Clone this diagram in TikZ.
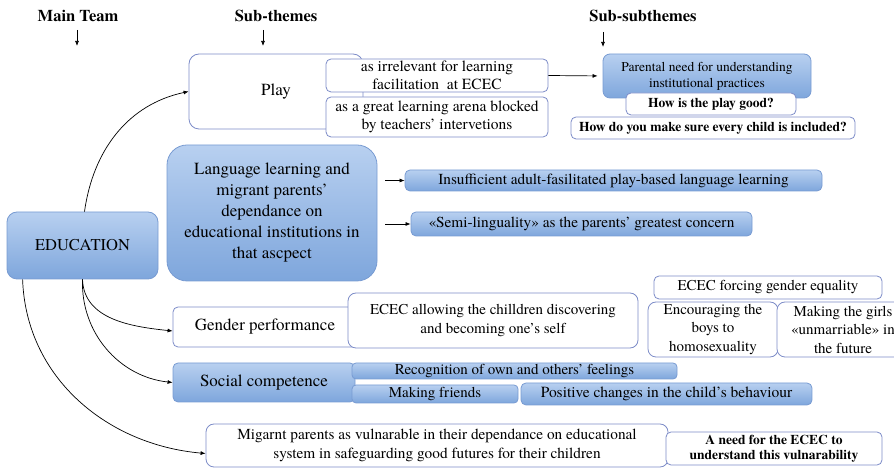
\documentclass[tikz,border=0pt]{standalone}
\usepackage{fontspec}
\setmainfont{texgyretermes}[Extension=.otf, UprightFont=*-regular, BoldFont=*-bold, ItalicFont=*-italic, BoldItalicFont=*-bolditalic]
\usepackage{tikz}
\usetikzlibrary{arrows.meta}
\definecolor{boxline}{RGB}{125,140,200}
\definecolor{blueline}{RGB}{120,155,210}
\definecolor{bluetop}{RGB}{184,208,240}
\definecolor{bluebot}{RGB}{126,166,220}
\newcommand{\themefont}{\fontsize{15}{18.5}\selectfont}
\newcommand{\bigthemefont}{\fontsize{17}{21}\selectfont}
\newcommand{\smallthemefont}{\fontsize{15.3}{17}\selectfont}
\newcommand{\askfont}{\fontsize{13.5}{15}\selectfont\bfseries}
\tikzstyle{theme}=[draw=boxline, line width=0.8pt, rounded corners=5pt, inner sep=0, align=center, font=\themefont]
\tikzstyle{wtheme}=[theme, fill=white]
\tikzstyle{btheme}=[theme, draw=blueline, top color=bluetop, bottom color=bluebot]
\tikzstyle{header}=[font=\fontsize{16.5}{18}\selectfont\bfseries]
\tikzstyle{link}=[-{Latex[length=5pt,width=4pt]}, line width=0.7pt]
\tikzstyle{themap}=[x=1pt, y=1pt]

\begin{document}
\begin{tikzpicture}[themap]
    \useasboundingbox (0,0) rectangle (894,468);
    % column headers
    \node[header] (hmain) at (78,452) {Main Team};
    \node[header] (hsub) at (276,452) {Sub-themes};
    \node[header] (hsubsub) at (643,452) {Sub-subthemes};
    \coordinate (hmaintop) at (77,438);
    \coordinate (hmainend) at (77,422);
    \coordinate (hsubtop) at (263,438);
    \coordinate (hsubend) at (263,422);
    \coordinate (hsubsubtop) at (603,436);
    \coordinate (hsubsubend) at (603,421);
    \draw[link] (hmaintop) -- (hmainend);
    \draw[link] (hsubtop) -- (hsubend);
    \draw[link] (hsubsubtop) -- (hsubsubend);

    % main theme
    \node[btheme, rounded corners=10pt, minimum width=151pt, minimum height=67pt,
          font=\fontsize{16.5}{20}\selectfont] (edu) at (82.5,222.5) {EDUCATION};

    % play
    \node[wtheme, rounded corners=10pt, minimum width=174pt, minimum height=75pt,
          font=\bigthemefont] (play) at (276,376.5) {Play};
    \node[wtheme, minimum width=222pt, minimum height=33pt, font=\fontsize{15.5}{17.5}\selectfont]
          (irrel) at (437,392.5) {as irrelevant for learning\\facilitation\ \ at ECEC};
    \node[wtheme, minimum width=222pt, minimum height=40pt, font=\fontsize{15.5}{18}\selectfont]
          (arena) at (437,351) {as a great learning arena blocked\\by teachers’ intervetions};
    \node[btheme, rounded corners=7pt, minimum width=208pt, minimum height=44pt,
          font=\fontsize{13.5}{16}\selectfont] (parent) at (707,392) {Parental need for understanding\\institutional practices};
    \node[wtheme, minimum width=170pt, minimum height=22pt, font=\askfont]
          (howplay) at (711,364) {How is the play good?};
    \node[wtheme, minimum width=284pt, minimum height=22pt, font=\askfont]
          (howchild) at (713,340) {How do you make sure every child is included?};
    \draw[link, shorten >=5pt] (irrel.east) -- (parent.west);

    % language
    \node[btheme, rounded corners=20pt, minimum width=210pt, minimum height=136pt,
          font=\bigthemefont] (lang) at (272,255)
          {Language learning and\\migrant parents’\\dependance on\\educational institutions in\\that ascpect};
    \node[btheme, minimum width=417pt, minimum height=21pt, font=\smallthemefont]
          (insuff) at (613.5,287.5) {Insufficient adult-fasilitated play-based language learning};
    \node[btheme, minimum width=341pt, minimum height=24pt, font=\smallthemefont]
          (semi) at (581.5,244) {«Semi-linguality» as the parents’ greatest concern};
    \draw[link] (lang.east |- insuff.west) ++(8,0) -- (insuff.west);
    \draw[link] (lang.east |- semi.west) ++(8,0) -- (semi.west);

    % gender
    \node[wtheme, minimum width=184pt, minimum height=40pt, font=\bigthemefont]
          (gender) at (265,141) {Gender performance};
    \node[wtheme, rounded corners=8pt, minimum width=290pt, minimum height=55pt]
          (allow) at (493,147.5) {ECEC allowing the chilldren discovering\\and becoming one’s self};
    \node[wtheme, minimum width=228pt, minimum height=23pt]
          (forcing) at (768,180.5) {ECEC forcing gender equality};
    \node[wtheme, rounded corners=8pt, minimum width=130pt, minimum height=55pt]
          (encour) at (713,138.5) {Encouraging the\\boys to\\homosexuality};
    \node[wtheme, rounded corners=8pt, minimum width=132pt, minimum height=55pt]
          (girls) at (843,138.5) {Making the girls\\«unmarriable» in\\the future};

    % social competence
    \node[btheme, minimum width=182pt, minimum height=39pt, font=\bigthemefont]
          (social) at (264,85.5) {Social competence};
    \node[btheme, rounded corners=4pt, minimum width=325pt, minimum height=16pt]
          (recog) at (514.5,97) {Recognition of own and others’ feelings};
    \node[btheme, rounded corners=4pt, minimum width=166pt, minimum height=18pt]
          (friends) at (435,74) {Making friends};
    \node[btheme, minimum width=291pt, minimum height=22pt, font=\fontsize{15.5}{18}\selectfont]
          (positive) at (666.5,74) {Positive changes in the child’s behaviour};

    % vulnerability
    \node[wtheme, rounded corners=8pt, minimum width=462pt, minimum height=43pt,
          font=\fontsize{15.3}{18.5}\selectfont]
          (migr) at (437,22.5) {Migarnt parents as vulnarable in their dependance on educational\\system in safeguarding good futures for their children};
    \node[wtheme, minimum width=216pt, minimum height=33pt, font=\askfont]
          (need) at (774,19.5) {A need for the ECEC to\\understand this vulnarability};

    % links from the main theme
    \draw[link] ([xshift=2pt]edu.north) to[out=82, in=192] (play.west);
    \draw[link] (edu.south) to[out=-88, in=174] ([yshift=-4pt]gender.west);
    \draw[link] (edu.south) to[out=-92, in=174] (social.west);
    \draw[link] ([xshift=16pt]edu.south west) to[out=-88, in=175] ([yshift=-8pt]migr.west);
\end{tikzpicture}
\end{document}
